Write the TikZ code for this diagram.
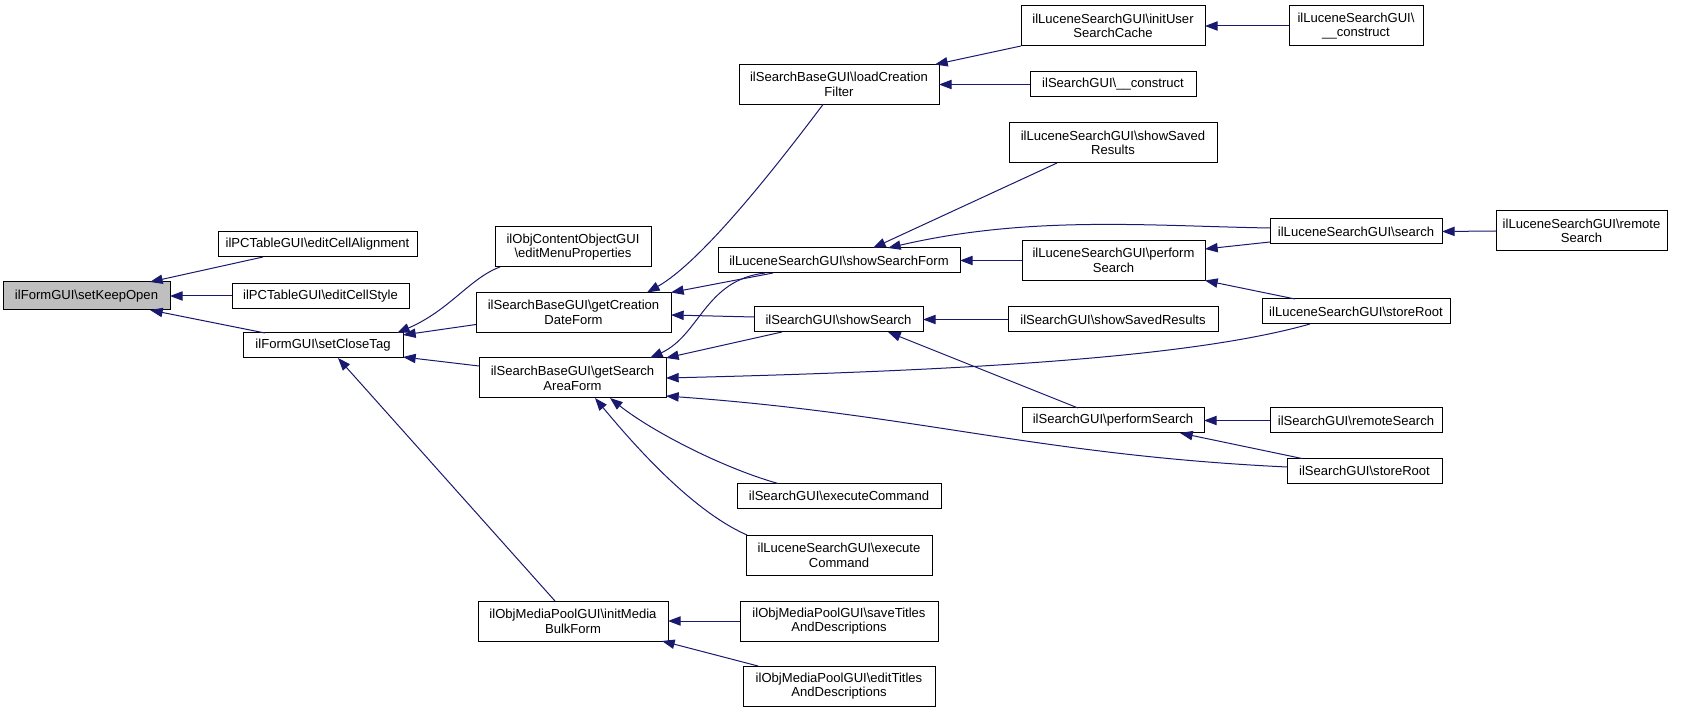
\documentclass[tikz,border=0pt]{standalone}
\usepackage{fontspec}
\setmainfont{Liberation Sans}
\usetikzlibrary{arrows.meta,calc}
\definecolor{edgeblue}{HTML}{191970}
\newcommand{\bs}{\textbackslash}
\begin{document}
\begin{tikzpicture}[x=0.75pt,y=-0.75pt,
 box/.style={draw=black, line width=0.75pt, fill=white, inner sep=0pt, outer sep=0pt, align=center, font=\fontsize{9.8}{11}\selectfont},
 one/.style={minimum width=#1*0.75pt, minimum height=25*0.75pt},
 two/.style={minimum width=#1*0.75pt, minimum height=40*0.75pt},
 call/.style={draw=edgeblue, line width=0.75pt, -{Triangle[length=9.5pt,width=7pt]}}]
\fill[white] (0,0) rectangle (1695,712);
\useasboundingbox (0,0) rectangle (1695,712);

\node[box,one=167,minimum height=28*0.75pt,fill=black!25] (kopen) at (86.5,296) {ilFormGUI\bs setKeepOpen};
\node[box,one=199] (align) at (317.5,244.5) {ilPCTableGUI\bs editCellAlignment};
\node[box,one=177] (cstyle) at (320.5,296) {ilPCTableGUI\bs editCellStyle};
\node[box,one=160] (close) at (323,345.5) {ilFormGUI\bs setCloseTag};
\node[box,two=156] (menu) at (573,247) {ilObjContentObjectGUI\\\bs editMenuProperties};
\node[box,two=195] (cdate) at (573.5,312.5) {ilSearchBaseGUI\bs getCreation\\DateForm};
\node[box,two=187] (sarea) at (572.5,378) {ilSearchBaseGUI\bs getSearch\\AreaForm};
\node[box,two=190] (media) at (573,621) {ilObjMediaPoolGUI\bs initMedia\\BulkForm};
\node[box,two=200] (lcf) at (839,84.5) {ilSearchBaseGUI\bs loadCreation\\Filter};
\node[box,one=242] (ssf) at (839,260.5) {ilLuceneSearchGUI\bs showSearchForm};
\node[box,one=169] (ss) at (838.5,319.5) {ilSearchGUI\bs showSearch};
\node[box,one=204] (exec) at (839,496) {ilSearchGUI\bs executeCommand};
\node[box,two=186] (lexec) at (839,555) {ilLuceneSearchGUI\bs execute\\Command};
\node[box,two=198] (save) at (839,621) {ilObjMediaPoolGUI\bs saveTitles\\AndDescriptions};
\node[box,two=192] (edit) at (839,686) {ilObjMediaPoolGUI\bs editTitles\\AndDescriptions};
\node[box,two=184] (ius) at (1113,26) {ilLuceneSearchGUI\bs initUser\\SearchCache};
\node[box,one=166] (sgc) at (1113,84.5) {ilSearchGUI\bs\_\_construct};
\node[box,two=208] (lssr) at (1113,143) {ilLuceneSearchGUI\bs showSaved\\Results};
\node[box,two=183] (lps) at (1113.5,260.5) {ilLuceneSearchGUI\bs perform\\Search};
\node[box,one=210] (sssr) at (1113,319.5) {ilSearchGUI\bs showSavedResults};
\node[box,one=182] (sps) at (1113,420.5) {ilSearchGUI\bs performSearch};
\node[box,two=134] (lcon) at (1356,26) {ilLuceneSearchGUI\bs\\\_\_construct};
\node[box,one=172] (lsearch) at (1356,231.5) {ilLuceneSearchGUI\bs search};
\node[box,one=188] (lstore) at (1356,311.5) {ilLuceneSearchGUI\bs storeRoot};
\node[box,one=172] (srem) at (1356,420.5) {ilSearchGUI\bs remoteSearch};
\node[box,one=155] (sstore) at (1364.5,471) {ilSearchGUI\bs storeRoot};
\node[box,two=171] (lrem) at (1581.5,231) {ilLuceneSearchGUI\bs remote\\Search};

% edges (caller -> callee)
\draw[call] ($(align.north west)+(45,25)$) -- ($(kopen.north west)+(147,0)$);
\draw[call] (cstyle.west) -- (kopen.east);
\draw[call] ($(close.north west)+(22,0)$) -- ($(kopen.north west)+(147,28)$);
\draw[call] ($(menu.north west)+(5,40)$) .. controls +(-30,11) and +(53,-23) .. ($(close.north west)+(154,0)$);
\draw[call] ($(cdate.north west)+(0,32)$) -- ($(close.north west)+(160,2)$);
\draw[call] ($(sarea.north west)+(0,8)$) -- ($(close.north west)+(160,24)$);
\draw[call] ($(media.north west)+(77,0)$) -- ($(close.north west)+(95,25)$);
\draw[call] ($(lcf.north west)+(84,40)$) .. controls +(-53,70.5) and +(53,-30) .. ($(cdate.north west)+(171,0)$);
\draw[call] ($(ssf.north west)+(55,25)$) -- (cdate.north east);
\draw[call] ($(ss.north west)+(0,10)$) -- ($(cdate.north west)+(195,22.5)$);
\draw[call] ($(ssf.north west)+(47,25)$) .. controls +(-60,7) and +(50,-23) .. ($(sarea.north west)+(171,0)$);
\draw[call] ($(ss.north west)+(28,25)$) -- (sarea.north east);
\draw[call] ($(lstore.north west)+(48,25)$) .. controls +(-110,31) and +(333,-8) .. (sarea.east);
\draw[call] ($(sstore.north west)+(0,8.5)$) .. controls +(-250,-12) and +(250,18) .. ($(sarea.north west)+(187,38)$);
\draw[call] ($(exec.north west)+(41,0)$) .. controls +(-58,-16.5) and +(40,32) .. ($(sarea.north west)+(131,40)$);
\draw[call] ($(lexec.north west)+(1,0)$) .. controls +(-57,-25) and +(35,42) .. ($(sarea.north west)+(116,40)$);
\draw[call] (save.west) -- (media.east);
\draw[call] ($(edit.north west)+(15,0)$) -- ($(media.north west)+(184,40)$);
\draw[call] (ius.south west) -- ($(lcf.north west)+(196,0)$);
\draw[call] (sgc.west) -- (lcf.east);
\draw[call] (lcon.west) -- (ius.east);
\draw[call] ($(lssr.north west)+(48,40)$) -- ($(ssf.north west)+(155,0)$);
\draw[call] ($(lsearch.north west)+(0,9)$) .. controls +(-120,-2) and +(142,-33) .. ($(ssf.north west)+(170,0)$);
\draw[call] (lps.west) -- (ssf.east);
\draw[call] (sssr.west) -- (ss.east);
\draw[call] ($(sps.north west)+(56,0)$) -- ($(ss.north west)+(134,25)$);
\draw[call] ($(lsearch.north west)+(0,23)$) -- ($(lps.north west)+(183,8.5)$);
\draw[call] ($(lstore.north west)+(33,0)$) -- (lps.south east);
\draw[call] (lrem.west) -- (lsearch.east);
\draw[call] (srem.west) -- (sps.east);
\draw[call] ($(sstore.north west)+(15,0)$) -- ($(sps.north west)+(158,25)$);
\end{tikzpicture}
\end{document}
